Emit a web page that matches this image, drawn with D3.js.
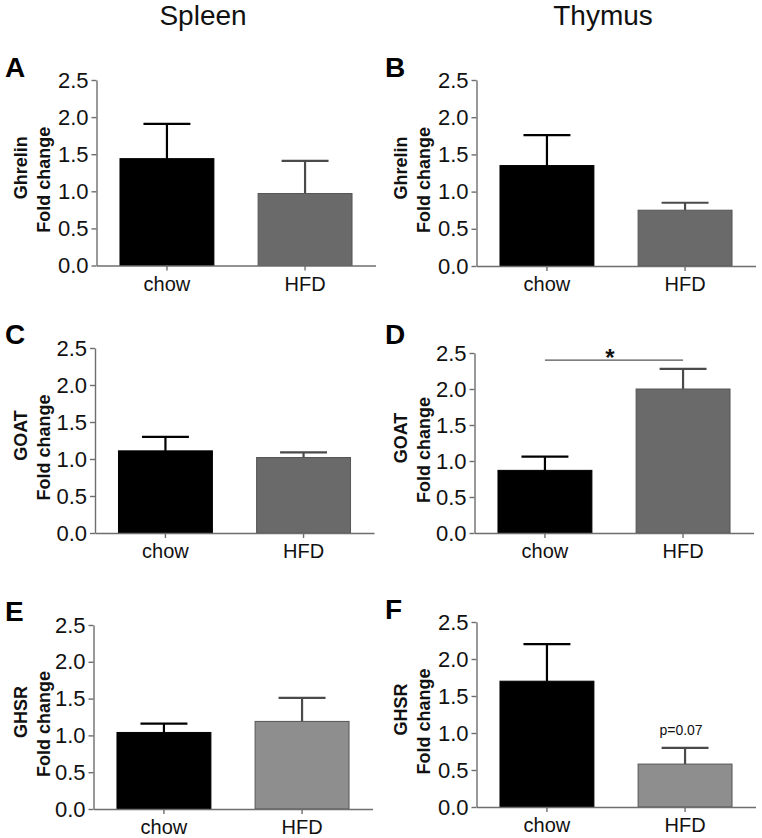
<!DOCTYPE html>
<html>
<head>
<meta charset="utf-8">
<script src="https://cdn.jsdelivr.net/npm/d3@7"></script>
<style>
  html, body { margin: 0; padding: 0; background: #fff; }
  svg { display: block; font-family: "Liberation Sans", Arial, sans-serif; }
</style>
</head>
<body>
<svg id="chart" width="762" height="838"></svg>
<script>
// ---------------- data ----------------
const tissues = ["Spleen", "Thymus"];
const panelLetters = ["A", "B", "C", "D", "E", "F"];
const genes = ["Ghrelin", "Ghrelin", "GOAT", "GOAT", "GHSR", "GHSR"];
const groups = ["chow", "HFD"];
const chowMean = [1.44, 1.35, 1.11, 0.87, 1.04, 1.70];
const chowSem  = [0.47, 0.41, 0.19, 0.19, 0.12, 0.50];
const hfdMean  = [0.97, 0.75, 1.02, 2.00, 1.19, 0.58];
const hfdSem   = [0.44, 0.10, 0.07, 0.28, 0.32, 0.22];
const yTicks = [0, 0.5, 1.0, 1.5, 2.0, 2.5];
const yTickLabels = ["0.0", "0.5", "1.0", "1.5", "2.0", "2.5"];
const sigBar = [{ panel: 3, from: "chow", to: "HFD", level: 2.40, label: "*" }];
const pNote = [{ panel: 5, group: "HFD", label: "p=0.07" }];

// ---------------- layout ----------------
const svg = d3.select("#chart");
const layout = [
  { x0: 96.5, top: 80,  bottom: 265.5, letterX: 5,   letterY: 77,  titleX: 0 },
  { x0: 476.5, top: 80, bottom: 266,   letterX: 385, letterY: 77,  titleX: 380 },
  { x0: 95,   top: 348, bottom: 533,   letterX: 5,   letterY: 344, titleX: 0 },
  { x0: 474.5, top: 353, bottom: 533,  letterX: 385, letterY: 344, titleX: 380 },
  { x0: 93.5, top: 625, bottom: 809,   letterX: 5,   letterY: 621, titleX: 0 },
  { x0: 476.5, top: 622, bottom: 807,  letterX: 385, letterY: 619, titleX: 380 }
];
const axisColor = "#6e6e6e";

// column titles
svg.selectAll("text.coltitle")
  .data(tissues)
  .join("text")
  .attr("class", "coltitle")
  .attr("x", (d, i) => i === 0 ? 203 : 603)
  .attr("y", 25)
  .attr("text-anchor", "middle")
  .attr("font-size", 28)
  .attr("fill", "#111")
  .text(d => d);

panelLetters.forEach((letter, i) => {
  const L = layout[i];
  const g = svg.append("g");
  const y = d3.scaleLinear().domain([0, 2.5]).range([L.bottom, L.top]);
  const x = d3.scaleBand().domain(groups)
    .range([L.x0, L.x0 + 279]).paddingInner(0.32).paddingOuter(0.17);

  const hfdFill = i >= 4 ? "#8e8e8e" : "#6a6a6a";
  const rows = [
    { group: "chow", mean: chowMean[i], sem: chowSem[i], fill: "#000", stroke: "#000", err: "#000" },
    { group: "HFD", mean: hfdMean[i], sem: hfdSem[i], fill: hfdFill, stroke: "#555", err: "#4a4a4a" }
  ];

  // error bars (upper only)
  rows.forEach(r => {
    const cx = x(r.group) + x.bandwidth() / 2;
    const half = x.bandwidth() * 0.25;
    g.append("line")
      .attr("x1", cx).attr("x2", cx)
      .attr("y1", y(r.mean)).attr("y2", y(r.mean + r.sem))
      .attr("stroke", r.err).attr("stroke-width", 2.2);
    g.append("line")
      .attr("x1", cx - half).attr("x2", cx + half)
      .attr("y1", y(r.mean + r.sem)).attr("y2", y(r.mean + r.sem))
      .attr("stroke", r.err).attr("stroke-width", 2.2);
  });

  // bars
  g.selectAll("rect.bar")
    .data(rows)
    .join("rect")
    .attr("class", "bar")
    .attr("x", d => x(d.group))
    .attr("width", x.bandwidth())
    .attr("y", d => y(d.mean))
    .attr("height", d => y(0) - y(d.mean))
    .attr("fill", d => d.fill)
    .attr("stroke", d => d.stroke)
    .attr("stroke-width", 1);

  // y axis
  const yAxis = g.append("g")
    .attr("transform", `translate(${L.x0},0)`)
    .call(d3.axisLeft(y).tickValues(yTicks)
      .tickFormat((d, k) => yTickLabels[k])
      .tickSize(5).tickSizeOuter(0).tickPadding(3));
  yAxis.selectAll("text").attr("font-size", 22).attr("fill", "#111")
    .attr("font-family", "'Liberation Sans', Arial, sans-serif");

  // x axis
  const xAxis = g.append("g")
    .attr("transform", `translate(0,${L.bottom})`)
    .call(d3.axisBottom(x).tickSize(5).tickSizeOuter(0).tickPadding(6));
  xAxis.selectAll("text").attr("font-size", 20).attr("fill", "#111")
    .attr("font-family", "'Liberation Sans', Arial, sans-serif");

  [yAxis, xAxis].forEach(a => {
    a.select(".domain").attr("stroke", axisColor).attr("stroke-width", 1.4);
    a.selectAll(".tick line").attr("stroke", axisColor).attr("stroke-width", 1.4);
  });

  // y title (two lines, rotated)
  const cy = (L.top + L.bottom) / 2;
  g.append("text")
    .attr("transform", `translate(${L.titleX + 27},${cy - 5}) rotate(-90)`)
    .attr("text-anchor", "middle")
    .attr("font-size", 18).attr("font-weight", "bold").attr("fill", "#111")
    .text(genes[i]);
  g.append("text")
    .attr("transform", `translate(${L.titleX + 50},${cy + 7}) rotate(-90)`)
    .attr("text-anchor", "middle")
    .attr("font-size", 18).attr("font-weight", "bold").attr("fill", "#111")
    .text("Fold change");

  // panel letter
  svg.append("text")
    .attr("x", L.letterX).attr("y", L.letterY)
    .attr("font-size", 28).attr("font-weight", "bold").attr("fill", "#000")
    .text(letter);

  // significance bar
  sigBar.filter(s => s.panel === i).forEach(s => {
    const x1 = x(s.from) + x.bandwidth() / 2;
    const x2 = x(s.to) + x.bandwidth() / 2;
    g.append("line")
      .attr("x1", x1).attr("x2", x2)
      .attr("y1", y(s.level)).attr("y2", y(s.level))
      .attr("stroke", "#555").attr("stroke-width", 1.3);
    g.append("text")
      .attr("x", (x1 + x2) / 2 - 4).attr("y", y(s.level) + 6)
      .attr("text-anchor", "middle")
      .attr("font-size", 24).attr("font-weight", "bold").attr("fill", "#111")
      .text(s.label);
  });

  // p-value note
  pNote.filter(p => p.panel === i).forEach(p => {
    const r = rows.find(d => d.group === p.group);
    g.append("text")
      .attr("x", x(p.group) + x.bandwidth() / 2 - 4)
      .attr("y", y(r.mean + r.sem) - 13)
      .attr("text-anchor", "middle")
      .attr("font-size", 14).attr("fill", "#111")
      .text(p.label);
  });
});
</script>
</body>
</html>
